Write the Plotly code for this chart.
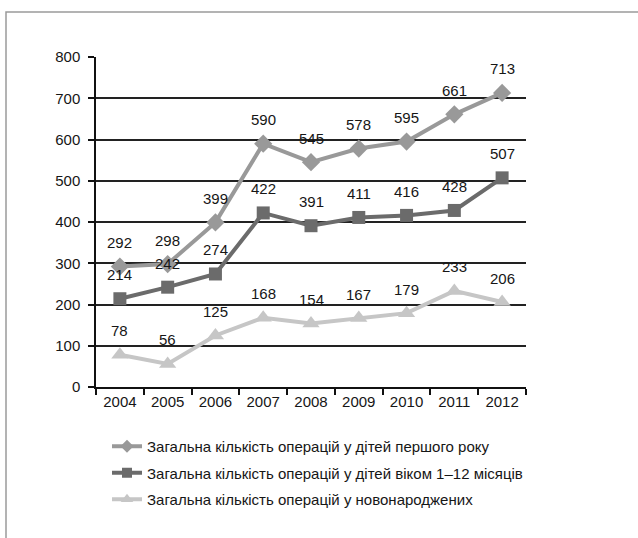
import plotly.graph_objects as go

# Operation counts by year
years = ["2004", "2005", "2006", "2007", "2008", "2009", "2010", "2011", "2012"]
first_year = [292, 298, 399, 590, 545, 578, 595, 661, 713]
age_1_12 = [214, 242, 274, 422, 391, 411, 416, 428, 507]
newborns = [78, 56, 125, 168, 154, 167, 179, 233, 206]

names = [
    "Загальна кількість операцій у дітей першого року",
    "Загальна кількість операцій у дітей віком 1–12 місяців",
    "Загальна кількість операцій у новонароджених",
]
series = [first_year, age_1_12, newborns]
colors = ["#999999", "#6b6b6b", "#c6c6c6"]
symbols = ["diamond", "square", "triangle-up"]
sizes = [14, 13, 15]
legend_sizes = [10, 10, 11]

FONT = "Liberation Sans, Arial, sans-serif"
TXT = "#161616"

W, H = 638, 538
L, R, T, B = 96, 112, 57, 151
pw, ph = W - L - R, H - T - B

fig = go.Figure()
for i, (vals, name) in enumerate(zip(series, names)):
    fig.add_trace(go.Scatter(
        x=years, y=vals, name=name, mode="lines+markers",
        line=dict(color=colors[i], width=4),
        marker=dict(symbol=symbols[i], size=sizes[i], color=colors[i]),
        legendgroup=f"g{i}", showlegend=False,
        hoverinfo="skip",
    ))
    # legend entry with a smaller symbol
    fig.add_trace(go.Scatter(
        x=[None], y=[None], name=name, mode="lines+markers",
        line=dict(color=colors[i], width=4),
        marker=dict(symbol=symbols[i], size=legend_sizes[i], color=colors[i]),
        legendgroup=f"g{i}", showlegend=True,
        hoverinfo="skip",
    ))

# value labels above each point
annotations = []
for vals in series:
    for idx, v in enumerate(vals):
        annotations.append(dict(
            x=idx, y=v, xref="x", yref="y", text=str(v), showarrow=False,
            yshift=24, font=dict(family=FONT, size=15, color=TXT),
        ))

def px_x(p):
    return (p - L) / pw

def px_y(p):
    return (H - B - p) / ph

# outer frame
shapes = [dict(
    type="rect", xref="paper", yref="paper",
    x0=px_x(6), x1=px_x(660), y0=px_y(560), y1=px_y(12),
    line=dict(color="#9a9a9a", width=1.5), fillcolor="rgba(0,0,0,0)", layer="below",
)]

fig.update_layout(
    width=W, height=H,
    margin=dict(l=L, r=R, t=T, b=B, pad=0),
    paper_bgcolor="white", plot_bgcolor="white",
    font=dict(family=FONT, size=15, color=TXT),
    showlegend=True,
    legend=dict(
        x=px_x(107), y=px_y(430), xanchor="left", yanchor="top",
        orientation="v", tracegroupgap=4,
        font=dict(family=FONT, size=15, color=TXT),
        bgcolor="rgba(0,0,0,0)",
    ),
    annotations=annotations,
    shapes=shapes,
    xaxis=dict(
        type="category", categoryorder="array", categoryarray=years,
        range=[-0.5, 8.5], tickson="boundaries", ticks="outside",
        ticklen=6, tickcolor="#111111", tickwidth=1.5,
        showline=True, linecolor="#111111", linewidth=1.5,
        showgrid=False, zeroline=False,
        tickfont=dict(family=FONT, size=15, color=TXT),
        fixedrange=True,
    ),
    yaxis=dict(
        range=[0, 800], dtick=100, tick0=0, ticks="outside",
        ticklen=6, tickcolor="#111111", tickwidth=1.5,
        ticklabelstandoff=5,
        showline=True, linecolor="#111111", linewidth=1.5,
        showgrid=True, gridcolor="#222222", gridwidth=1.5,
        zeroline=False,
        tickfont=dict(family=FONT, size=15, color=TXT),
        fixedrange=True,
    ),
)

fig.write_html("out.html")
